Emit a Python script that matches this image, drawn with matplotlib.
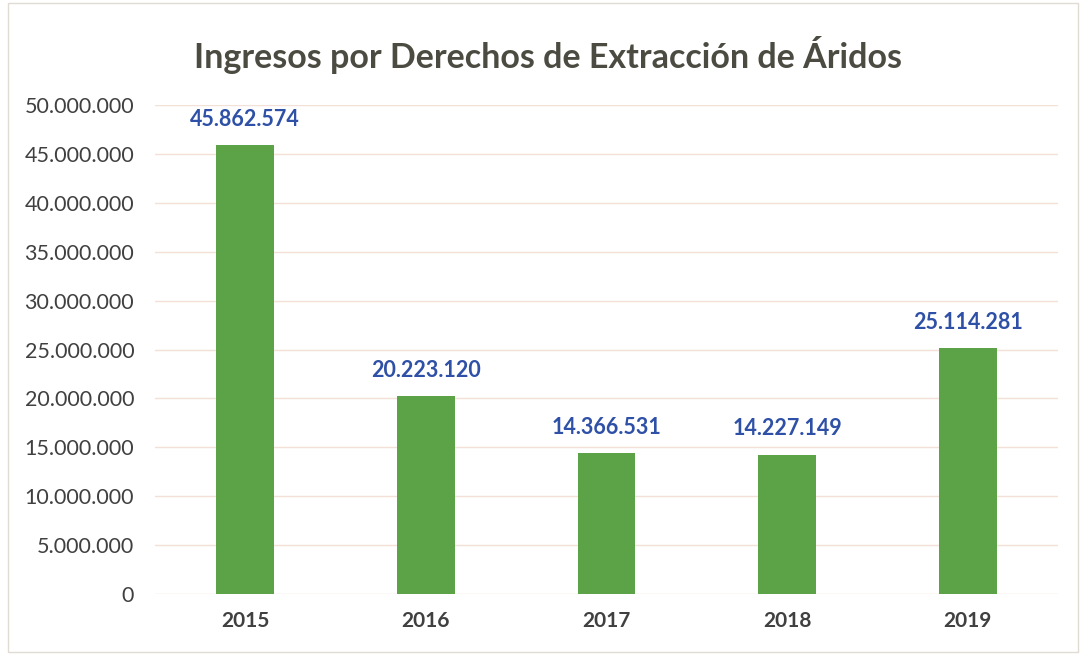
import matplotlib.pyplot as plt
from matplotlib.ticker import FuncFormatter

years = ["2015", "2016", "2017", "2018", "2019"]
ingresos = [45862574, 20223120, 14366531, 14227149, 25114281]
yticks = [0, 5000000, 10000000, 15000000, 20000000, 25000000,
          30000000, 35000000, 40000000, 45000000, 50000000]

plt.rcParams['font.family'] = ['Lato', 'DejaVu Sans']


def miles(v, pos=None):
    return f"{int(v):,}".replace(",", ".")


fig = plt.figure(figsize=(10.8, 6.55), dpi=100)
ax = fig.add_axes([155 / 1080, 1 - 594 / 655, 903 / 1080, 489 / 655])

x = range(len(years))
bars = ax.bar(x, ingresos, width=0.32, color="#5ca347", zorder=2)

for b, v in zip(bars, ingresos):
    ax.text(b.get_x() + b.get_width() / 2, v + 1600000, miles(v),
            ha="center", va="bottom", fontsize=15.5, fontweight="bold",
            color="#2e50a6")

ax.set_xlim(-0.5, len(years) - 0.5)
ax.set_ylim(0, 50000000)
ax.set_yticks(yticks)
ax.yaxis.set_major_formatter(FuncFormatter(miles))
ax.set_xticks(list(x))
ax.set_xticklabels(years, fontsize=15, fontweight="bold", color="#404040")
ax.tick_params(axis="y", labelsize=15.5, labelcolor="#404040", length=0, pad=15)
ax.tick_params(axis="x", length=0, pad=12)
ax.grid(axis="y", color="#f3e0d6", linewidth=1, zorder=0)
for s in ax.spines.values():
    s.set_visible(False)

fig.text(548 / 1080, 1 - 55 / 655, "Ingresos por Derechos de Extracción de Áridos",
         ha="center", va="center", fontsize=24.5, fontweight="bold", color="#4b4b42")

fig.patches.append(plt.Rectangle((8 / 1080, 0.005), 1070 / 1080, 0.99,
                                 transform=fig.transFigure, fill=False,
                                 edgecolor="#e0dcd4", linewidth=1))

fig.savefig("out.png", dpi=100)
